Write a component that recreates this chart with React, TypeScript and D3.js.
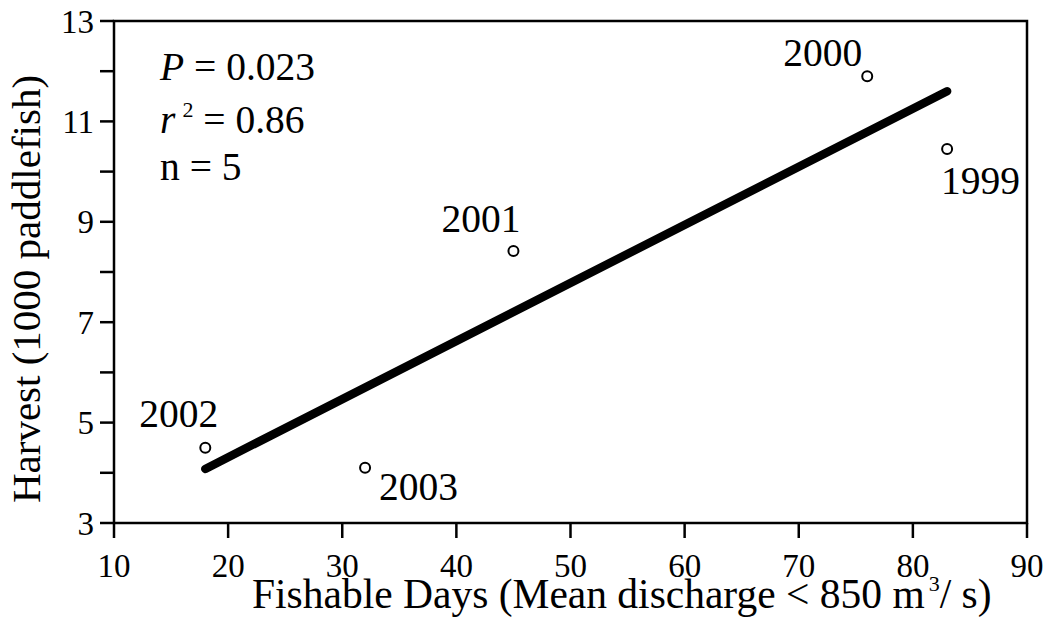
import React from "react";
import * as d3 from "d3";

const years = ["1999", "2000", "2001", "2002", "2003"];
const fishableDays = [83, 76, 45, 18, 32];
const harvest = [10.45, 11.9, 8.42, 4.5, 4.1];
const xTicks = [10, 20, 30, 40, 50, 60, 70, 80, 90];
const yTicks = [3, 4, 5, 6, 7, 8, 9, 10, 11, 12, 13];
const yTickLabels = [3, 5, 7, 9, 11, 13];
const statLines = ["P", "r2", "n"];
const statValues = ["0.023", "0.86", "5"];

const W = 1052;
const H = 627;
const M = { left: 114, right: 1027, top: 21, bottom: 523 };
const FONT = "'Liberation Serif', 'Times New Roman', serif";

// label offsets (pixels) relative to each point
const labelPos: Record<string, { dx: number; dy: number; anchor: string }> = {
  "2002": { dx: 13, dy: -21, anchor: "end" },
  "2003": { dx: 14, dy: 32, anchor: "start" },
  "2001": { dx: 7, dy: -19, anchor: "end" },
  "2000": { dx: -5, dy: -10, anchor: "end" },
  "1999": { dx: -6, dy: 45, anchor: "start" },
};

export default function App() {
  const x = d3.scaleLinear().domain([10, 90]).range([M.left, M.right]);
  const y = d3.scaleLinear().domain([3, 13]).range([M.bottom, M.top]);

  // least-squares regression from the data
  const mx = d3.mean(fishableDays) as number;
  const my = d3.mean(harvest) as number;
  let sxy = 0, sxx = 0;
  fishableDays.forEach((v, i) => {
    sxy += (v - mx) * (harvest[i] - my);
    sxx += (v - mx) * (v - mx);
  });
  const slope = sxy / sxx;
  const icpt = my - slope * mx;
  const xMin = d3.min(fishableDays) as number;
  const xMax = d3.max(fishableDays) as number;
  const line = d3
    .line<number>()
    .x((d) => x(d))
    .y((d) => y(icpt + slope * d));

  const axisW = 2.5;
  const tickFs = 33;
  const annFs = 39.5;

  return (
    <svg
      width={W}
      height={H}
      style={{ position: "absolute", left: 0, top: 0, background: "#fff" }}
      fontFamily={FONT}
    >
      <rect x={0} y={0} width={W} height={H} fill="#fff" />
      {/* frame */}
      <rect
        x={M.left}
        y={M.top}
        width={M.right - M.left}
        height={M.bottom - M.top}
        fill="none"
        stroke="#000"
        strokeWidth={axisW}
      />
      {/* x ticks */}
      {xTicks.map((t) => (
        <g key={"xt" + t}>
          <line x1={x(t)} x2={x(t)} y1={M.bottom} y2={M.bottom + 15} stroke="#000" strokeWidth={axisW} />
          <text x={x(t)} y={M.bottom + 54} fontSize={tickFs} textAnchor="middle">
            {t}
          </text>
        </g>
      ))}
      {/* y ticks */}
      {yTicks.map((t) => (
        <line key={"yt" + t} x1={M.left - 14} x2={M.left} y1={y(t)} y2={y(t)} stroke="#000" strokeWidth={axisW} />
      ))}
      {yTickLabels.map((t) => (
        <text key={"yl" + t} x={M.left - 20} y={y(t) + 11.5} fontSize={tickFs} textAnchor="end">
          {t}
        </text>
      ))}
      {/* axis titles */}
      <text x={252} y={608} fontSize={41.5}>
        Fishable Days (Mean discharge &lt; 850 m
        <tspan fontSize={22} dy={-17} dx={4}>3</tspan>
        <tspan dy={17}>/ s)</tspan>
      </text>
      <text
        transform={`translate(40, ${(M.top + M.bottom) / 2 + 17}) rotate(-90)`}
        fontSize={41}
        textAnchor="middle"
      >
        Harvest (1000 paddlefish)
      </text>
      {/* regression line */}
      <path
        d={line([xMin, xMax]) || ""}
        fill="none"
        stroke="#000"
        strokeWidth={8.5}
        strokeLinecap="round"
      />
      {/* points */}
      {fishableDays.map((d, i) => (
        <circle key={"p" + i} cx={x(d)} cy={y(harvest[i])} r={5} fill="#fff" stroke="#000" strokeWidth={2} />
      ))}
      {years.map((yr, i) => {
        const p = labelPos[yr];
        return (
          <text
            key={"l" + yr}
            x={x(fishableDays[i]) + p.dx}
            y={y(harvest[i]) + p.dy}
            fontSize={annFs}
            textAnchor={p.anchor}
          >
            {yr}
          </text>
        );
      })}
      {/* stats annotation */}
      {statLines.map((s, i) => {
        const ty = [80, 133, 180][i];
        if (s === "P")
          return (
            <text key={s} x={160} y={ty} fontSize={annFs}>
              <tspan fontStyle="italic">P</tspan> = {statValues[i]}
            </text>
          );
        if (s === "r2")
          return (
            <text key={s} x={160} y={ty} fontSize={annFs}>
              <tspan fontStyle="italic">r</tspan>
              <tspan fontSize={22} dy={-16} dx={7}>2</tspan>
              <tspan dy={16}> = {statValues[i]}</tspan>
            </text>
          );
        return (
          <text key={s} x={160} y={ty} fontSize={annFs}>
            n = {statValues[i]}
          </text>
        );
      })}
    </svg>
  );
}
